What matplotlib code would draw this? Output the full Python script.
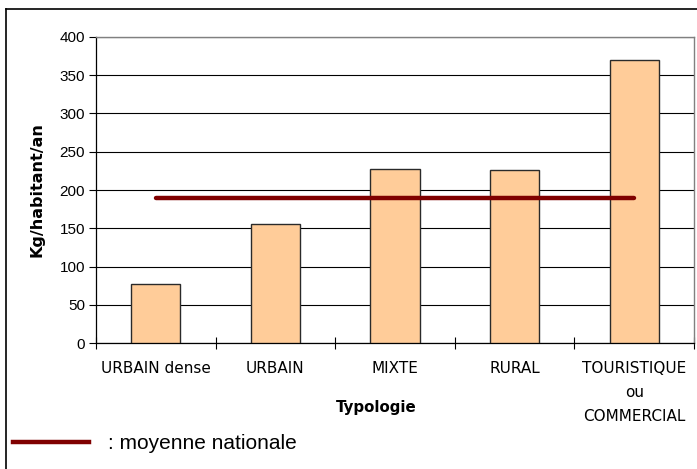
import matplotlib.pyplot as plt
from matplotlib.lines import Line2D
import numpy as np

# donnees
categories = ["URBAIN dense", "URBAIN", "MIXTE", "RURAL", "TOURISTIQUE\nou\nCOMMERCIAL"]
valeurs = [77, 156, 228, 226, 370]
moyenne = [189, 189, 189, 189, 189]
yticks = [0, 50, 100, 150, 200, 250, 300, 350, 400]

fig = plt.figure(figsize=(6.97, 4.69), dpi=100)
W, H = 697, 469
ax = fig.add_axes([96 / W, 1 - 343 / H, 598 / W, 306 / H])

x = np.arange(len(categories))
ax.bar(x, valeurs, width=0.41, color="#FFCC99", edgecolor="#2a2a2a", linewidth=1.0, zorder=3)
ax.plot(x, moyenne, color="#800000", linewidth=3.2, solid_capstyle="round", zorder=4)

ax.set_xlim(-0.5, len(categories) - 0.5)
ax.set_ylim(0, 400)
ax.set_yticks(yticks)
ax.set_yticklabels([str(v) for v in yticks], fontsize=11, family="Liberation Sans")
ax.yaxis.grid(True, color="black", linewidth=0.8, zorder=0)
ax.set_axisbelow(True)

# ticks x entre les categories
ax.set_xticks(np.arange(-0.5, len(categories), 1.0))
ax.set_xticklabels([])
ax.set_xticks(x, minor=True)
ax.set_xticklabels(categories, minor=True, fontsize=11, family="DejaVu Sans", linespacing=1.75)
ax.tick_params(axis="x", which="minor", length=0, pad=13)
ax.tick_params(axis="x", which="major", direction="inout", length=9, width=0.8)
ax.tick_params(axis="y", direction="out", length=5, width=0.8, pad=3)

for s in ["top", "right"]:
    ax.spines[s].set_color("#808080")
    ax.spines[s].set_linewidth(1.0)
for s in ["left", "bottom"]:
    ax.spines[s].set_color("black")
    ax.spines[s].set_linewidth(0.9)

ax.set_xlabel("Typologie", fontsize=10.8, fontweight="bold")
ax.xaxis.set_label_coords(280 / 598, (343 - 400) / 306)
ax.set_ylabel("Kg/habitant/an", fontsize=11.5, fontweight="bold")
ax.yaxis.set_label_coords((45 - 96) / 598, (343 - 190) / 306)

# cadre exterieur
fig.add_artist(Line2D([6 / W, 1.0], [1 - 9 / H, 1 - 9 / H], transform=fig.transFigure, color="black", linewidth=1.2))
fig.add_artist(Line2D([6 / W, 6 / W], [0.0, 1 - 9 / H], transform=fig.transFigure, color="black", linewidth=1.2))

# legende
fig.add_artist(Line2D([13 / W, 89 / W], [1 - 442 / H, 1 - 442 / H], transform=fig.transFigure, color="#800000", linewidth=3.2))
fig.text(108 / W, 1 - 443 / H, ": moyenne nationale", fontsize=15, family="Liberation Sans", va="center", ha="left")

fig.savefig("out.png", dpi=100)
